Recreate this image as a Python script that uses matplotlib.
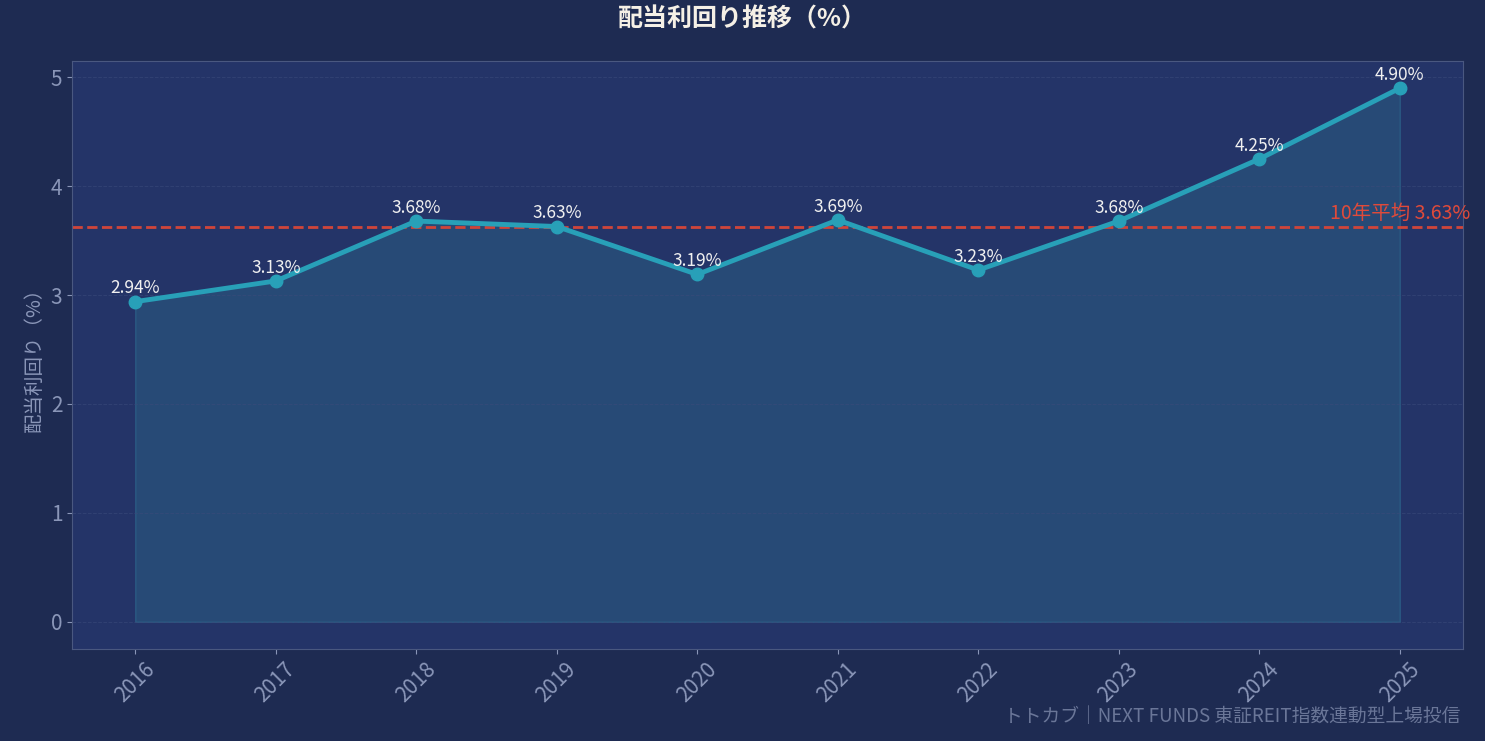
import matplotlib
matplotlib.use("Agg")
import matplotlib.pyplot as plt

plt.rcParams['font.family'] = ['Noto Sans CJK JP', 'DejaVu Sans']

years = ['2016', '2017', '2018', '2019', '2020', '2021', '2022', '2023', '2024', '2025']
yields = [2.94, 3.13, 3.68, 3.63, 3.19, 3.69, 3.23, 3.68, 4.25, 4.90]
avg = 3.63

fig = plt.figure(figsize=(14.85, 7.41), dpi=100, facecolor='#1e2b52')
ax = fig.add_axes([72/1485, 92/741, 1391/1485, 588/741], facecolor='#243468')

x = list(range(len(years)))
ax.fill_between(x, yields, 0, color='#2a5a80', alpha=0.6, edgecolor='#2e6a90', lw=1, zorder=1)
ax.plot(x, yields, color='#28a0b8', lw=3.5, marker='o', ms=9, zorder=3)
for xi, v in zip(x, yields):
    ax.annotate(f'{v:.2f}%', (xi, v), xytext=(0, 3), textcoords='offset points',
                ha='center', va='bottom', color='#f0f0f0', fontsize=12.5)

ax.axhline(avg, color='#d0453a', ls='--', lw=2, zorder=2)
ax.text(9.5, avg + 0.02, f'10年平均 {avg:.2f}%', color='#e04a3a', fontsize=14,
        ha='right', va='bottom')

ax.set_xlim(-0.45, 9.45)
ax.set_ylim(-0.25, 5.15)
ax.set_xticks(x)
ax.set_xticklabels(years, rotation=45, color='#8a96b8', fontsize=15)
ax.set_yticks(range(6))
ax.tick_params(axis='y', colors='#8a96b8', labelsize=15)
ax.tick_params(axis='x', colors='#8a96b8')
ax.grid(axis='y', color='#3a4a7a', ls='--', lw=0.7, alpha=0.6)
for s in ax.spines.values():
    s.set_color('#4a5880')
ax.set_ylabel('配当利回り（%）', color='#8a96b8', fontsize=14)
fig.suptitle('配当利回り推移（%）', color='#f5f0e6', fontsize=18, fontweight='bold', y=0.99)
fig.text(1460/1485, 14/741, 'トトカブ｜NEXT FUNDS 東証REIT指数連動型上場投信', color='#6a7698',
         fontsize=13.5, ha='right', va='bottom')

fig.savefig('out.png', dpi=100, facecolor=fig.get_facecolor())
